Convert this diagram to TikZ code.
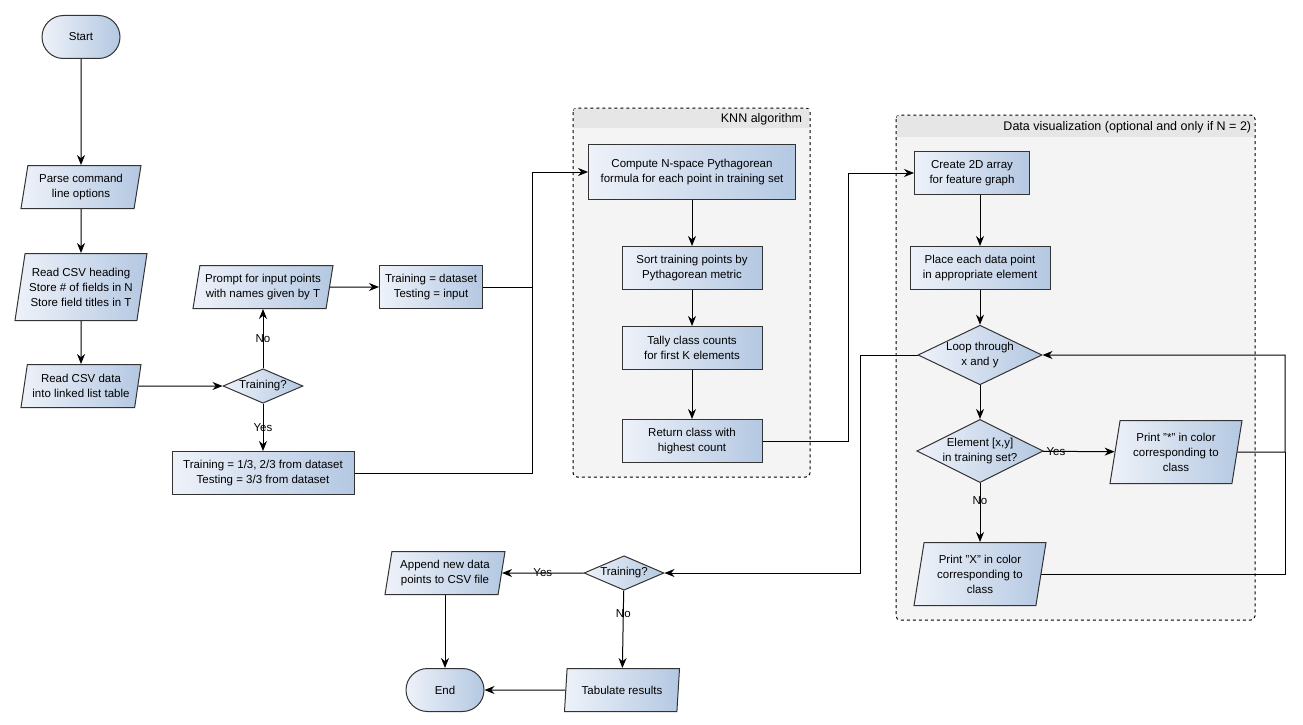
\documentclass[tikz,border=0pt]{standalone}
\usepackage{fontspec}
\setmainfont{Liberation Sans}
\usetikzlibrary{arrows.meta}
\usetikzlibrary{shapes.geometric}
\usetikzlibrary{shapes.misc}
\definecolor{boxline}{HTML}{333333}
\definecolor{fillA}{HTML}{EEF2F9}
\definecolor{fillB}{HTML}{B4C8E2}
\definecolor{groupfill}{HTML}{F4F4F4}
\definecolor{grouphead}{HTML}{E6E6E6}
\tikzset{
  every path/.style={line width=1pt},
  base/.style={draw=boxline, left color=fillA, right color=fillB, align=center,
    font=\fontsize{11.5}{15}\selectfont, inner sep=1pt},
  term/.style={base, rounded rectangle, minimum width=80, minimum height=43},
  io/.style={base, trapezium, trapezium left angle=76, trapezium right angle=104,
    trapezium stretches body, minimum width=#1, minimum height=43},
  io/.default=120,
  proc/.style={base, rectangle, minimum width=#1, minimum height=43},
  proc/.default=140,
  dec/.style={base, diamond, aspect=2, minimum width=#1, inner sep=0pt},
  dec/.default=80,
  group/.style={draw=black, dashed, fill=groupfill, rounded corners=4},
  lbl/.style={font=\fontsize{11.5}{15}\selectfont, inner sep=1pt},
  link/.style={draw=black, -{Stealth[length=10pt,width=8pt]}},
  line/.style={draw=black}
}
\begin{document}
\begin{tikzpicture}[x=1pt,y=-1pt]
  \useasboundingbox (0,0) rectangle (1303,725);

  % group boxes
  \draw [group] (573,108) rectangle (810,477);
  \fill [grouphead] (574,109) rectangle (809,128);
  \node [anchor=east, font=\fontsize{12.5}{14}\selectfont] at (806,119) {KNN algorithm};
  \draw [group] (896,115) rectangle (1255,620);
  \fill [grouphead] (897,116) rectangle (1254,137);
  \node [anchor=east, font=\fontsize{12.5}{14}\selectfont] at (1255,127) {Data visualization (optional and only if N = 2)};

  % left column
  \node [term] (start) at (81,37) {Start};
  \node [io] (parse) at (81,187) {Parse command\\line options};
  \node [io=132, minimum height=67] (head) at (81,287) {Read CSV heading\\Store \# of fields in N\\Store field titles in T};
  \node [io] (data) at (81,386) {Read CSV data\\into linked list table};

  % mode choice
  \node [dec] (train) at (263,386) {Training?};
  \node [io=140] (prompt) at (263,287) {Prompt for input points\\with names given by T};
  \node [proc=103] (setin) at (431,287) {Training = dataset\\Testing = input};
  \node [proc=182] (setds) at (263,473) {Training = 1/3, 2/3 from dataset\\Testing = 3/3 from dataset};
  \coordinate (join) at (532,287);

  % KNN
  \node [proc=207, minimum height=55] (pyth) at (692,172) {Compute N-space Pythagorean\\formula for each point in training set};
  \node [proc] (sort) at (692,268) {Sort training points by\\Pythagorean metric};
  \node [proc] (tally) at (692,348) {Tally class counts\\for first K elements};
  \node [proc] (ret) at (692,441) {Return class with\\highest count};

  % visualization
  \node [proc=115] (grid) at (972,173) {Create 2D array\\for feature graph};
  \node [proc] (place) at (980,268) {Place each data point\\in appropriate element};
  \node [dec=124] (loop) at (980,355) {Loop through\\x and y};
  \node [dec=124] (elem) at (980,451) {Element [x,y]\\in training set?};
  \node [io=132, minimum height=63] (star) at (1176,452) {Print "*" in color\\corresponding to\\class};
  \node [io=132, minimum height=63] (cross) at (980,574) {Print "X" in color\\corresponding to\\class};
  \coordinate (back) at (1285,452);

  % end
  \node [dec] (train2) at (624,573) {Training?};
  \node [io] (append) at (445,573) {Append new data\\points to CSV file};
  \node [io=115] (tab) at (622,690) {Tabulate results};
  \node [term] (end) at (445,690) {End};

  % connectors
  \draw [link] (start) -- (parse);
  \draw [link] (parse) -- (head);
  \draw [link] (head) -- (data);
  \draw [link] (data) -- (train);
  \draw [link] (train) -- node [lbl] {No} (prompt);
  \draw [link] (train) -- node [lbl] {Yes} (setds);
  \draw [link] (prompt) -- (setin);
  \draw [line] (setin) -- (join);
  \draw [line] (setds.east) -| (join);
  \draw [link] (join) |- (pyth.west);
  \draw [link] (pyth) -- (sort);
  \draw [link] (sort) -- (tally);
  \draw [link] (tally) -- (ret);
  \draw [link] (ret.east) -- ++(86,0) |- (grid.west);
  \draw [link] (grid.south -| place.north) -- (place.north);
  \draw [link] (place) -- (loop);
  \draw [link] (loop) -- (elem);
  \draw [link] (elem) -- node [lbl, pos=0.18] {Yes} (star);
  \draw [link] (elem) -- node [lbl, pos=0.3] {No} (cross);
  \draw [link] (star.east) -- (back) |- (loop.east);
  \draw [line] (cross.east) -| (back);
  \draw [link] (loop.west) -- ++(-57,0) |- (train2.east);
  \draw [link] (train2) -- node [lbl] {Yes} (append);
  \draw [link] (train2) -- node [lbl, pos=0.3] {No} (tab);
  \draw [link] (append) -- (end);
  \draw [link] (tab) -- (end);
\end{tikzpicture}
\end{document}
